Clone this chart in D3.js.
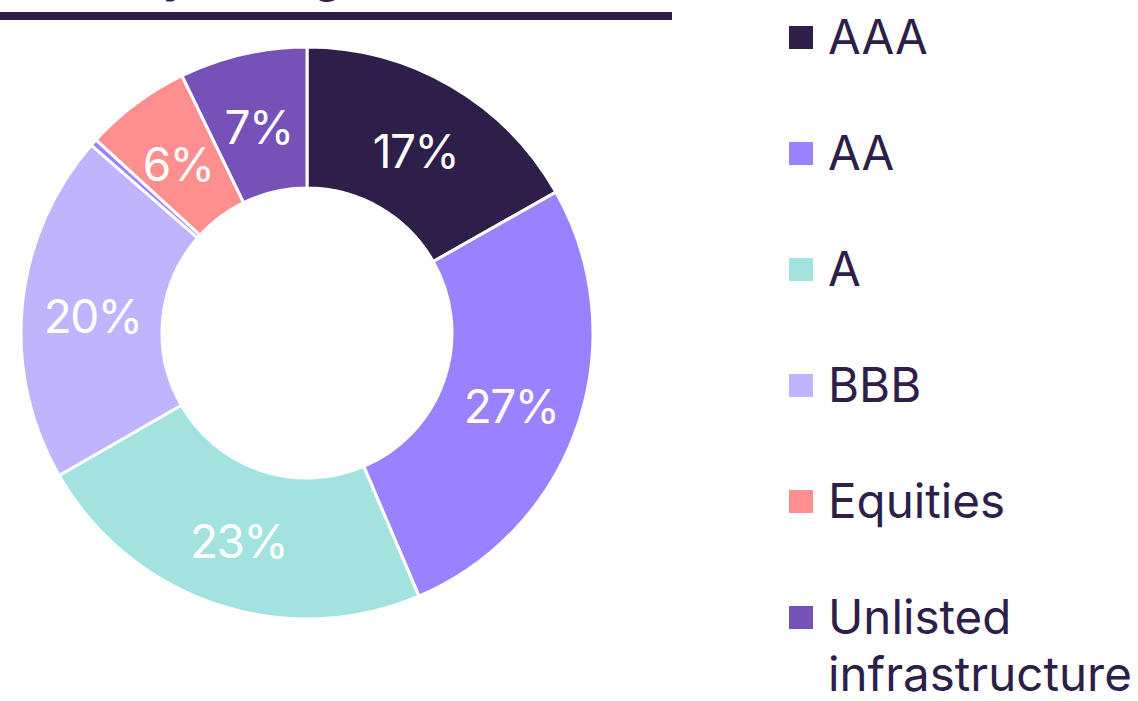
<!DOCTYPE html>
<html>
<head>
<meta charset="utf-8">
<script src="https://cdn.jsdelivr.net/npm/d3@7"></script>
<style>
  body { margin: 0; background: #fff; }
  svg { display: block; font-family: Inter, "Noto Sans", sans-serif; }
</style>
</head>
<body>
<div id="chart"></div>
<script>
// Datos del gráfico
const categories = ["AAA", "AA", "A", "BBB", "Other", "Equities", "Unlisted infrastructure"];
const values = [16.8, 26.8, 23.1, 19.7, 0.4, 6.0, 7.2];
const labels = ["17%", "27%", "23%", "20%", "", "6%", "7%"];
const colors = ["#2d1e4a", "#9a82ff", "#a2e3e0", "#c0b4ff", "#9a82ff", "#ff8f8f", "#7652b8"];
const legendItems = ["AAA", "AA", "A", "BBB", "Equities", "Unlisted infrastructure"];

const width = 1138, height = 701;
const cx = 307, cy = 333;
const outerR = 286, innerR = 145;
const ink = "#2d1e4a";

const svg = d3.select("#chart").append("svg")
    .attr("width", width)
    .attr("height", height);

// Título (recortado arriba, como en el original) y línea superior
svg.append("text")
    .attr("x", 343)
    .attr("y", -9)
    .attr("text-anchor", "end")
    .attr("fill", ink)
    .style("font-size", "50px")
    .style("font-weight", 500)
    .text("Portfolio by rating");

svg.append("rect")
    .attr("x", 0).attr("y", 12)
    .attr("width", 672).attr("height", 8)
    .attr("fill", ink);

// Donut
const data = categories.map((c, i) => ({ name: c, value: values[i], label: labels[i], color: colors[i] }));
const pie = d3.pie().value(d => d.value).sort(null);
const arc = d3.arc().innerRadius(innerR).outerRadius(outerR);

const g = svg.append("g").attr("transform", `translate(${cx},${cy})`);
const arcs = pie(data);

g.selectAll("path")
    .data(arcs)
    .enter()
    .append("path")
    .attr("d", arc)
    .attr("fill", d => d.data.color)
    .attr("stroke", "#fff")
    .attr("stroke-width", 3)
    .attr("stroke-linejoin", "round");

g.selectAll("text")
    .data(arcs.filter(d => d.data.label))
    .enter()
    .append("text")
    .attr("transform", d => `translate(${arc.centroid(d)})`)
    .attr("text-anchor", "middle")
    .attr("dy", "0.46em")
    .attr("fill", "#fff")
    .style("font-size", "46px")
    .style("letter-spacing", "-1.5px")
    .text(d => d.data.label);

// Leyenda
const colorOf = name => colors[categories.indexOf(name)];
const legend = svg.append("g").attr("transform", "translate(789,0)");
const rowGap = 116;

legendItems.forEach((name, i) => {
    const base = 54 + i * rowGap;
    legend.append("rect")
        .attr("x", 0)
        .attr("y", base - 28)
        .attr("width", 24)
        .attr("height", 23)
        .attr("fill", colorOf(name));
    const words = name === "Unlisted infrastructure" ? ["Unlisted", "infrastructure"] : [name];
    const t = legend.append("text")
        .attr("x", 39)
        .attr("y", base)
        .attr("fill", ink)
        .style("font-size", "47.5px");
    words.forEach((w, j) => {
        t.append("tspan")
            .attr("x", 39)
            .attr("dy", j === 0 ? 0 : 57)
            .text(w);
    });
});
</script>
</body>
</html>
